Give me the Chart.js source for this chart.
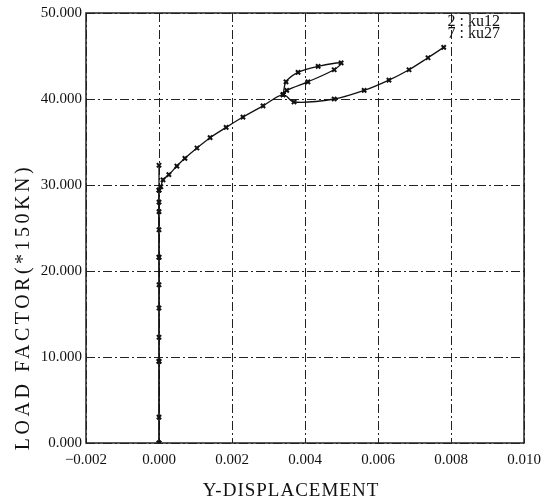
<!DOCTYPE html>
<html>
<head>
<meta charset="utf-8">
<script src="https://cdn.jsdelivr.net/npm/chart.js@4/dist/chart.umd.min.js"></script>
<style>
  html, body { margin: 0; padding: 0; background: #fff; }
  canvas { display: block; }
</style>
</head>
<body>
<canvas id="grafico" width="545" height="502"></canvas>
<script>
// series values (x = Y-displacement, y = load factor)
var ku12X = [0, 0, 0, 0, 0, 0, 0, 0, 0, 0, 0, 0, null,
             0.0034, 0.00348, 0.00381, 0.00436, 0.00499, 0.0048, 0.00408, 0.0035, 0.0034];
var ku12Y = [0, 3.0, 9.5, 12.3, 15.7, 18.4, 21.6, 24.8, 26.9, 28.0, 29.4, 32.3, null,
             40.5, 42.0, 43.1, 43.8, 44.2, 43.4, 42.0, 41.0, 40.5];

var ku27X = [0, 0, 0, 0, 0.00005, 0.00011, 0.00027, 0.00049, 0.00071, 0.00104, 0.0014,
             0.00184, 0.0023, 0.00285, 0.0034, 0.0037, 0.0048, 0.00562, 0.0063, 0.00685,
             0.00737, 0.0078];
var ku27Y = [0, 9.5, 21.6, 29.4, 29.8, 30.6, 31.2, 32.2, 33.1, 34.3, 35.5,
             36.7, 37.9, 39.2, 40.5, 39.65, 40.0, 41.0, 42.2, 43.4,
             44.8, 46.0];

var etichette = ['2 : ku12', '7 : ku27'];
var titoloX = 'Y-DISPLACEMENT';
var titoloY = 'LOAD FACTOR(*150KN)';
var xTicks = [-0.002, 0, 0.002, 0.004, 0.006, 0.008, 0.010];
var yTicks = [0, 10, 20, 30, 40, 50];

function punti(xs, ys) {
   return xs.map(function (x, i) {
      return { x: x, y: ys[i] };
   });
}

function numero(v) {
   var s = Math.abs(v).toFixed(3);
   return v < -1e-9 ? '\u2212' + s : s;
}

var serif = '"Liberation Serif", "DejaVu Serif", serif';

// dash-dot grid lines, drawn by hand so the pattern looks like the plot
const griglia = {
   id: 'griglia',
   beforeDatasetsDraw: function (chart) {
      const ctx = chart.ctx;
      const area = chart.chartArea;
      const xs = chart.scales.x;
      const ys = chart.scales.y;
      ctx.save();
      ctx.strokeStyle = '#222';
      ctx.lineWidth = 1;
      ctx.setLineDash([9, 3, 2, 3]);
      xTicks.forEach(function (t) {
         const px = Math.round(xs.getPixelForValue(t)) + 0.5;
         ctx.beginPath();
         ctx.moveTo(px, area.top);
         ctx.lineTo(px, area.bottom);
         ctx.stroke();
      });
      yTicks.forEach(function (t) {
         const py = Math.round(ys.getPixelForValue(t)) + 0.5;
         ctx.beginPath();
         ctx.moveTo(area.left, py);
         ctx.lineTo(area.right, py);
         ctx.stroke();
      });
      ctx.setLineDash([]);
      ctx.lineWidth = 1.5;
      ctx.strokeRect(area.left, area.top, area.right - area.left, area.bottom - area.top);
      ctx.restore();
   }
};

// legend text in the corner and the two axis titles
const testi = {
   id: 'testi',
   afterDatasetsDraw: function (chart) {
      const ctx = chart.ctx;
      const area = chart.chartArea;
      ctx.save();
      ctx.fillStyle = '#111';
      ctx.font = '16px ' + serif;
      ctx.textAlign = 'right';
      ctx.textBaseline = 'middle';
      ctx.fillText(etichette[0], area.right - 24, area.top + 9);
      ctx.fillText(etichette[1], area.right - 24, area.top + 21);

      ctx.font = '19px ' + serif;
      ctx.textAlign = 'center';
      ctx.textBaseline = 'alphabetic';
      ctx.letterSpacing = '1px';
      ctx.fillText(titoloX, 291, 496);

      ctx.translate(24, 307);
      ctx.rotate(-Math.PI / 2);
      ctx.font = '20px ' + serif;
      ctx.letterSpacing = '3.5px';
      ctx.textBaseline = 'middle';
      ctx.fillText(titoloY, 0, 0);
      ctx.restore();
   }
};

const ctx = document.getElementById('grafico').getContext('2d');
const myChart = new Chart(ctx, {
   type: 'scatter',
   data: {
      datasets: [{
         label: etichette[0],
         data: punti(ku12X, ku12Y),
         showLine: true,
         spanGaps: false,
         borderColor: '#111',
         backgroundColor: '#111',
         borderWidth: 1.3,
         pointStyle: 'crossRot',
         pointRadius: 3,
         pointBorderWidth: 2,
         tension: 0.3
      }, {
         label: etichette[1],
         data: punti(ku27X, ku27Y),
         showLine: true,
         borderColor: '#111',
         backgroundColor: '#111',
         borderWidth: 1.3,
         pointStyle: 'crossRot',
         pointRadius: 3,
         pointBorderWidth: 2,
         tension: 0.3
      }]
   },
   options: {
      responsive: false,
      animation: false,
      layout: { padding: { top: 13, right: 21, left: 0, bottom: 0 } },
      plugins: {
         legend: { display: false },
         tooltip: { enabled: false }
      },
      scales: {
         x: {
            type: 'linear',
            min: -0.002,
            max: 0.010,
            afterBuildTicks: function (scale) {
               scale.ticks = xTicks.map(function (v) { return { value: v }; });
            },
            afterFit: function (scale) {
               scale.height = 59;
               scale.paddingLeft = 0;
               scale.paddingRight = 0;
            },
            grid: { display: false, drawTicks: false },
            border: { display: false },
            ticks: {
               color: '#111',
               padding: 8,
               maxRotation: 0,
               autoSkip: false,
               font: { family: serif, size: 15 },
               callback: function (v) { return numero(v); }
            }
         },
         y: {
            type: 'linear',
            min: 0,
            max: 50,
            afterBuildTicks: function (scale) {
               scale.ticks = yTicks.map(function (v) { return { value: v }; });
            },
            afterFit: function (scale) {
               scale.width = 86;
               scale.paddingTop = 0;
               scale.paddingBottom = 0;
            },
            grid: { display: false, drawTicks: false },
            border: { display: false },
            ticks: {
               color: '#111',
               padding: 4,
               autoSkip: false,
               font: { family: serif, size: 15 },
               callback: function (v) { return numero(v); }
            }
         }
      }
   },
   plugins: [griglia, testi]
});
</script>
</body>
</html>
